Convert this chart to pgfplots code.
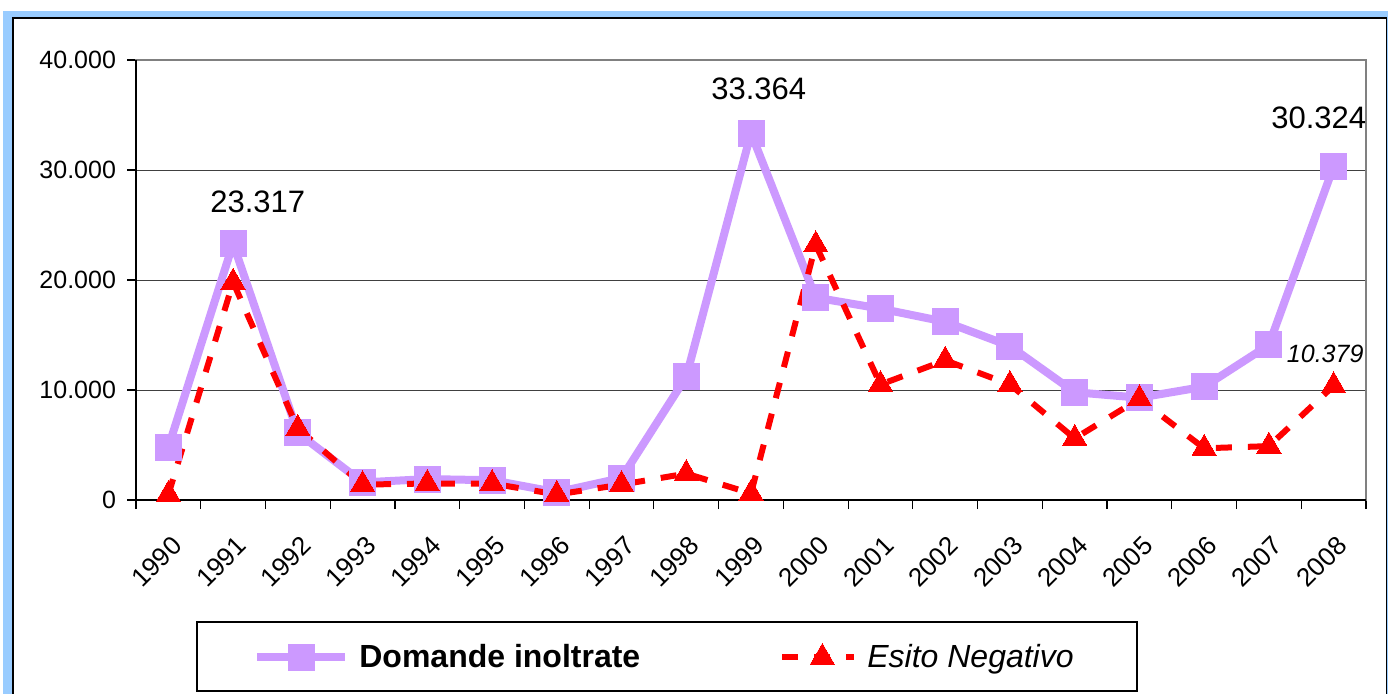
\documentclass[border=0pt]{standalone}
\usepackage{pgfplots}
\pgfplotsset{compat=1.18}
\usepackage{fontspec}
\setmainfont{Liberation Sans}
\definecolor{lila}{HTML}{CC99FF}
\definecolor{frameblue}{HTML}{99CCFF}
\definecolor{rosso}{HTML}{FF0000}
\pgfplotsset{
  domleg/.style={legend image code/.code={\draw[mark repeat=2,mark phase=2,##1] plot coordinates {(0pt,0pt) (22pt,0pt) (44pt,0pt)};}},
  esleg/.style={legend image code/.code={\draw[mark repeat=2,mark phase=2,##1] plot coordinates {(0pt,0pt) (20pt,0pt) (36pt,0pt)};}},
}
\begin{document}
\begin{tikzpicture}[x=0.5pt,y=0.5pt]
\useasboundingbox (0,0) rectangle (1388,693);
\clip (0,0) rectangle (1388,693);
\fill[frameblue] (3,-10) rectangle (1400,682);
\filldraw[fill=white,draw=black,line width=0.75pt] (13,-10) rectangle (1386.5,675);
\draw[black,line width=0.6pt] (197,71) rectangle (1137,2);
\begin{axis}[
  at={(68pt,96.5pt)}, anchor=south west,
  scale only axis, width=615pt, height=220pt,
  xmin=-0.5, xmax=18.5, ymin=0, ymax=40000,
  clip=false,
  xtick={0,...,18},
  xticklabels={1990,1991,1992,1993,1994,1995,1996,1997,1998,1999,2000,2001,2002,2003,2004,2005,2006,2007,2008},
  minor xtick={-0.5,0.5,...,18.5},
  ytick={0,10000,20000,30000,40000},
  minor ytick={0,10000,20000,30000,40000},
  xtick pos=bottom, ytick pos=left,
  major tick length=0pt, minor tick length=4.5pt,
  tick align=outside,
  tick style={black, line width=0.6pt},
  ymajorgrids, grid style={black!75, line width=0.5pt},
  axis line style={draw=gray, line width=1pt},
  scaled y ticks=false,
  /pgf/number format/.cd, 1000 sep={.}, assume math mode=true,
  /pgfplots/.cd,
  yticklabel style={font=\fontsize{12.5}{14}\selectfont, xshift=-6.5pt},
  xticklabel style={font=\fontsize{13}{15}\selectfont, rotate=45, anchor=north east, xshift=-8pt, yshift=-9.5pt},
  legend style={at={(0.0951,-0.3568)}, anchor=west, draw=none, fill=none,
    inner sep=0pt, column sep=5pt, font=\fontsize{16}{19}\selectfont,
    nodes={inner sep=0pt}},
  legend columns=2,
]
\draw[black,line width=0.6pt] (rel axis cs:0,1) -- (rel axis cs:0,0) -- (rel axis cs:1,0);
\addplot[lila, line width=4pt, mark=square*, mark size=6.5pt, mark options={solid, fill=lila, draw=lila, line width=0pt}, domleg]
  coordinates {
  (0,4800) (1,23317) (2,6100) (3,1600) (4,1900) (5,1800) (6,700) (7,2000) (8,11200) (9,33364)
  (10,18400) (11,17400) (12,16200) (13,14000) (14,9800) (15,9300) (16,10300) (17,14100) (18,30324)};
\addlegendentry{\makebox[205pt][l]{\textbf{Domande inoltrate}}}
\addplot[rosso, line width=3pt, dash pattern=on 8pt off 8pt, mark=triangle*, mark size=7pt, mark options={solid, fill=rosso, draw=rosso, line width=0pt}, esleg]
  coordinates {
  (0,500) (1,19800) (2,6500) (3,1400) (4,1500) (5,1500) (6,500) (7,1400) (8,2400) (9,600)
  (10,23200) (11,10500) (12,12700) (13,10500) (14,5600) (15,9200) (16,4700) (17,4900) (18,10379)};
\addlegendentry{\textit{Esito Negativo}}
\node[font=\fontsize{15.5}{18}\selectfont] at (axis cs:1.38,27090) {23.317};
\node[font=\fontsize{15.5}{18}\selectfont] at (axis cs:9.12,37364) {33.364};
\node[font=\fontsize{15.5}{18}\selectfont] at (axis cs:17.77,34727) {30.324};
\node[font=\fontsize{12.5}{14}\selectfont\itshape] at (axis cs:17.87,13273) {10.379};
\end{axis}
\end{tikzpicture}
\end{document}
